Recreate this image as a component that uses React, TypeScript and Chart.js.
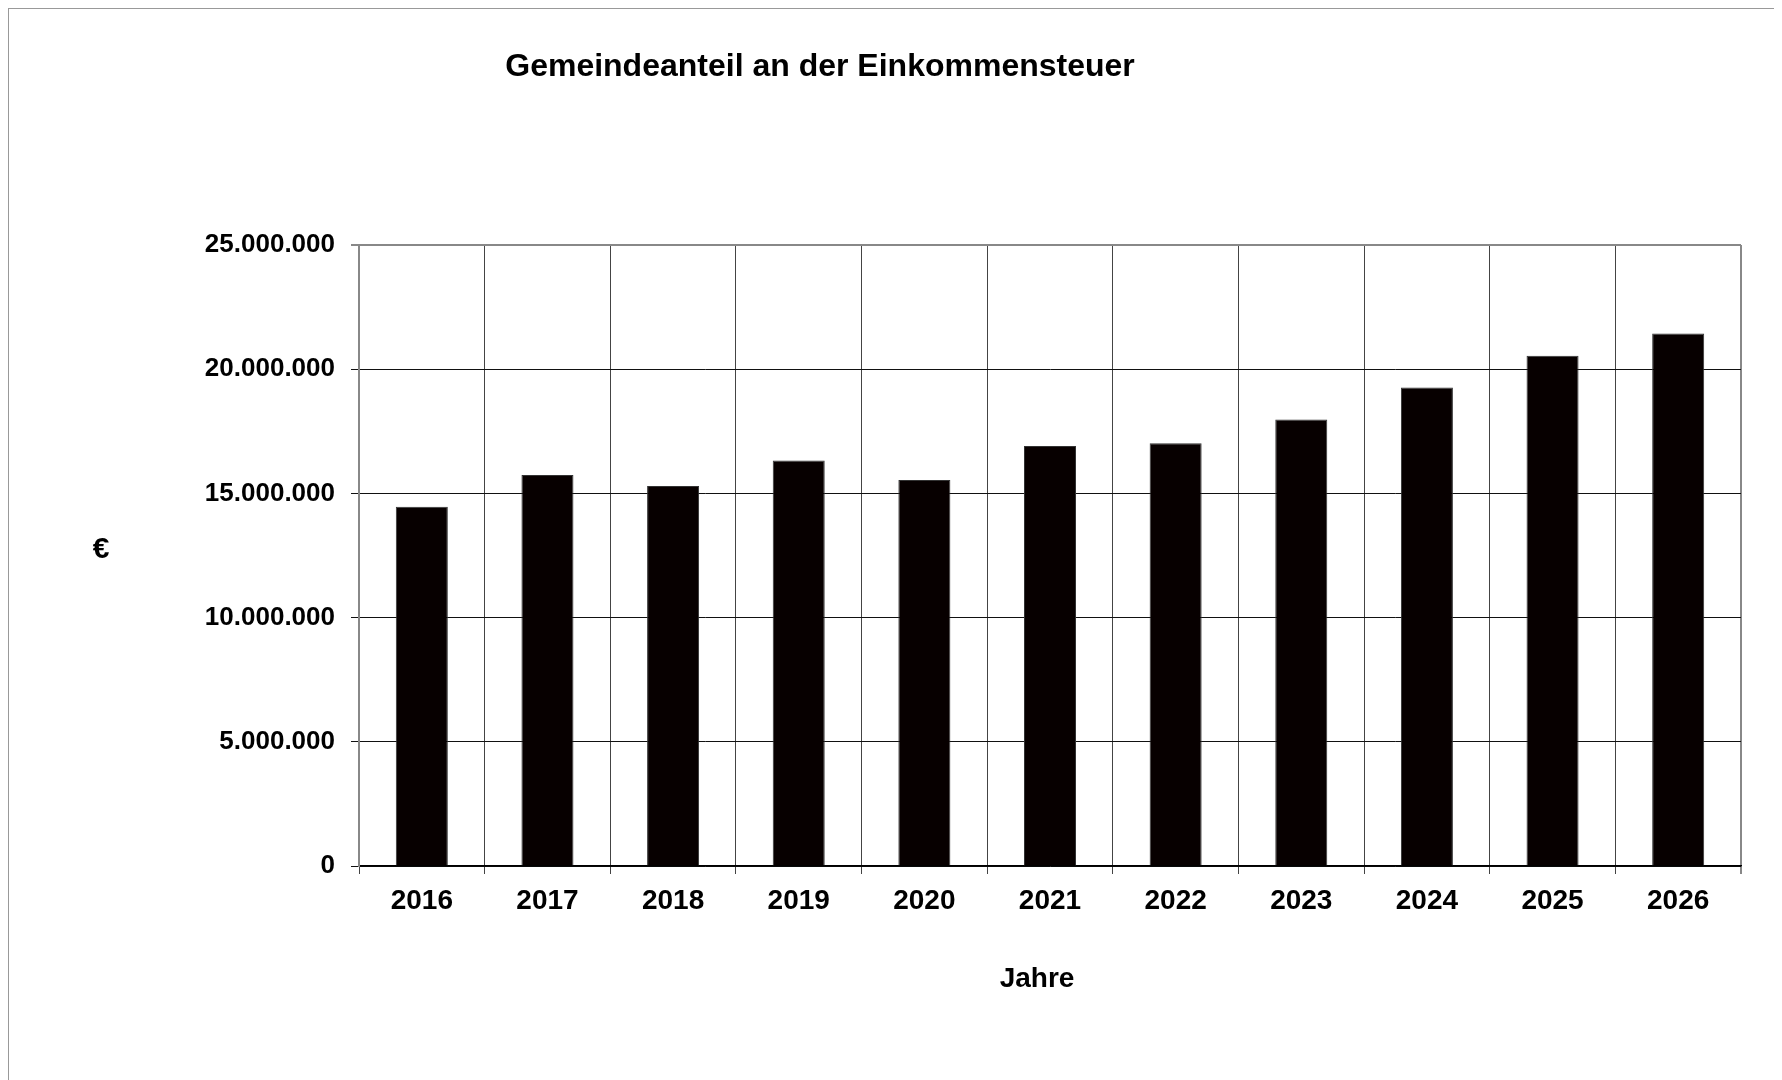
import React, { useEffect, useRef } from "react";
import { Chart, registerables } from "chart.js";

Chart.register(...registerables);

const categories = ["2016", "2017", "2018", "2019", "2020", "2021", "2022", "2023", "2024", "2025", "2026"];
const values = [14460000, 15740000, 15300000, 16320000, 15540000, 16910000, 17020000, 17980000, 19260000, 20540000, 21440000];
const titleText = "Gemeindeanteil an der Einkommensteuer";
const yAxisLabel = "€";
const xAxisLabel = "Jahre";
const yMax = 25000000;
const yStep = 5000000;

const FONT = '"Liberation Sans", Arial, sans-serif';

function fmt(v: number): string {
  return String(Math.round(v)).replace(/\B(?=(\d{3})+(?!\d))/g, ".");
}

const textPlugin = {
  id: "staticTexts",
  afterDraw(chart: any) {
    const ctx = chart.ctx;
    ctx.save();
    ctx.fillStyle = "#000";
    ctx.textAlign = "center";
    ctx.textBaseline = "middle";
    ctx.font = `bold 32px ${FONT}`;
    ctx.fillText(titleText, 811, 58);
    ctx.font = `bold 30px ${FONT}`;
    ctx.fillText(yAxisLabel, 92, 541);
    ctx.font = `bold 28px ${FONT}`;
    ctx.fillText(xAxisLabel, 1028, 970);
    ctx.restore();
  },
};

export default function App() {
  const ref = useRef<HTMLCanvasElement | null>(null);

  useEffect(() => {
    if (!ref.current) return;
    const chart = new Chart(ref.current, {
      type: "bar",
      data: {
        labels: categories,
        datasets: [
          {
            data: values,
            backgroundColor: "#070000",
            borderColor: "#333",
            borderWidth: 1,
            categoryPercentage: 1,
            barPercentage: 0.414,
          },
        ],
      },
      options: {
        animation: false,
        responsive: false,
        devicePixelRatio: 1,
        layout: { padding: { left: 0, right: 41, top: 236, bottom: 0 } },
        plugins: {
          legend: { display: false },
          tooltip: { enabled: false },
          title: { display: false },
        },
        scales: {
          x: {
            offset: true,
            grid: {
              offset: true,
              drawTicks: true,
              tickLength: 8,
              color: (c: any) => (c.type !== "tick" ? "#888" : "#444"),
              lineWidth: (c: any) => (c.type !== "tick" ? 2 : 1),
            },
            border: { display: true, color: "#000", width: 1.5 },
            ticks: {
              color: "#000",
              font: { family: FONT, size: 28, weight: "bold" },
              padding: 10,
              maxRotation: 0,
            },
            afterFit: (s: any) => {
              s.height = 214;
            },
          },
          y: {
            min: 0,
            max: yMax,
            grid: {
              drawTicks: true,
              tickLength: 8,
              color: (c: any) => (c.tick && c.tick.value === yMax ? "#888" : "#111"),
              lineWidth: (c: any) => (c.tick && c.tick.value === yMax ? 2 : 1),
            },
            border: { display: true, color: "#888", width: 2 },
            ticks: {
              stepSize: yStep,
              color: "#000",
              font: { family: FONT, size: 26, weight: "bold" },
              padding: 16,
              callback: (v: any) => fmt(Number(v)),
            },
            afterFit: (s: any) => {
              s.width = 350;
            },
          },
        },
      },
      plugins: [textPlugin],
    });
    return () => chart.destroy();
  }, []);

  return (
    <div
      style={{
        width: 1774,
        height: 1072,
        boxSizing: "border-box",
        borderLeft: "1px solid #999",
        borderTop: "1px solid #999",
        background: "#fff",
        overflow: "hidden",
      }}
    >
      <canvas ref={ref} width={1773} height={1071} style={{ display: "block", width: 1773, height: 1071 }} />
    </div>
  );
}
